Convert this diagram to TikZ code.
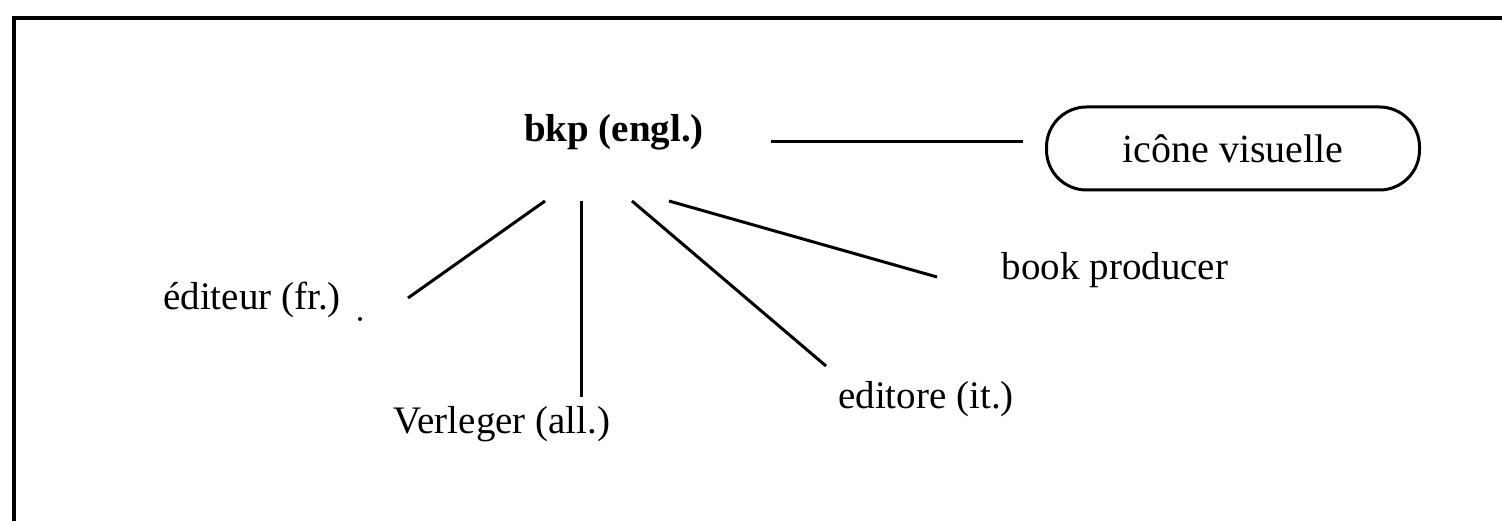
\documentclass[tikz,border=0pt]{standalone}
\usepackage{fontspec}
\setmainfont{Liberation Serif}
\begin{document}
\begin{tikzpicture}[x=1pt,y=-1pt,
  lbl/.style={anchor=base,inner sep=0pt,font=\fontsize{39}{47}\selectfont},
  conn/.style={line width=3pt},
  iconbox/.style={draw,line width=3pt,rounded corners=40pt,minimum width=373pt,minimum height=83pt,inner sep=0pt,font=\fontsize{40}{48}\selectfont}]
\useasboundingbox (0,0) rectangle (1502,521);
% frame (left and top edges only)
\draw[line width=4pt] (14,521) -- (14,18) -- (1502,18);
% nodes
\node[lbl,font=\fontsize{39}{47}\selectfont\bfseries] (bkp) at (614,142) {bkp (engl.)};
\node[iconbox] (icon) at (1233,148.5) {icône visuelle};
\node[lbl] (edit) at (252,310) {éditeur (fr.)};
\node[lbl] (verl) at (502,433) {Verleger (all.)};
\node[lbl] (edito) at (926,408) {editore (it.)};
\node[lbl] (book) at (1115,280) {book producer};
% connector end points
\coordinate (h1) at (771,142);
\coordinate (h2) at (1023,142);
\coordinate (a1) at (545,201);
\coordinate (a2) at (408,298);
\coordinate (b1) at (581,201);
\coordinate (b2) at (581,397);
\coordinate (c1) at (632,201);
\coordinate (c2) at (826,366);
\coordinate (d1) at (669,201);
\coordinate (d2) at (937,277);
% connectors
\draw[conn] (h1) -- (h2);
\draw[conn] (a1) -- (a2);
\draw[conn] (b1) -- (b2);
\draw[conn] (c1) -- (c2);
\draw[conn] (d1) -- (d2);
% stray dot
\fill (360,319) circle (2pt);
\end{tikzpicture}
\end{document}
